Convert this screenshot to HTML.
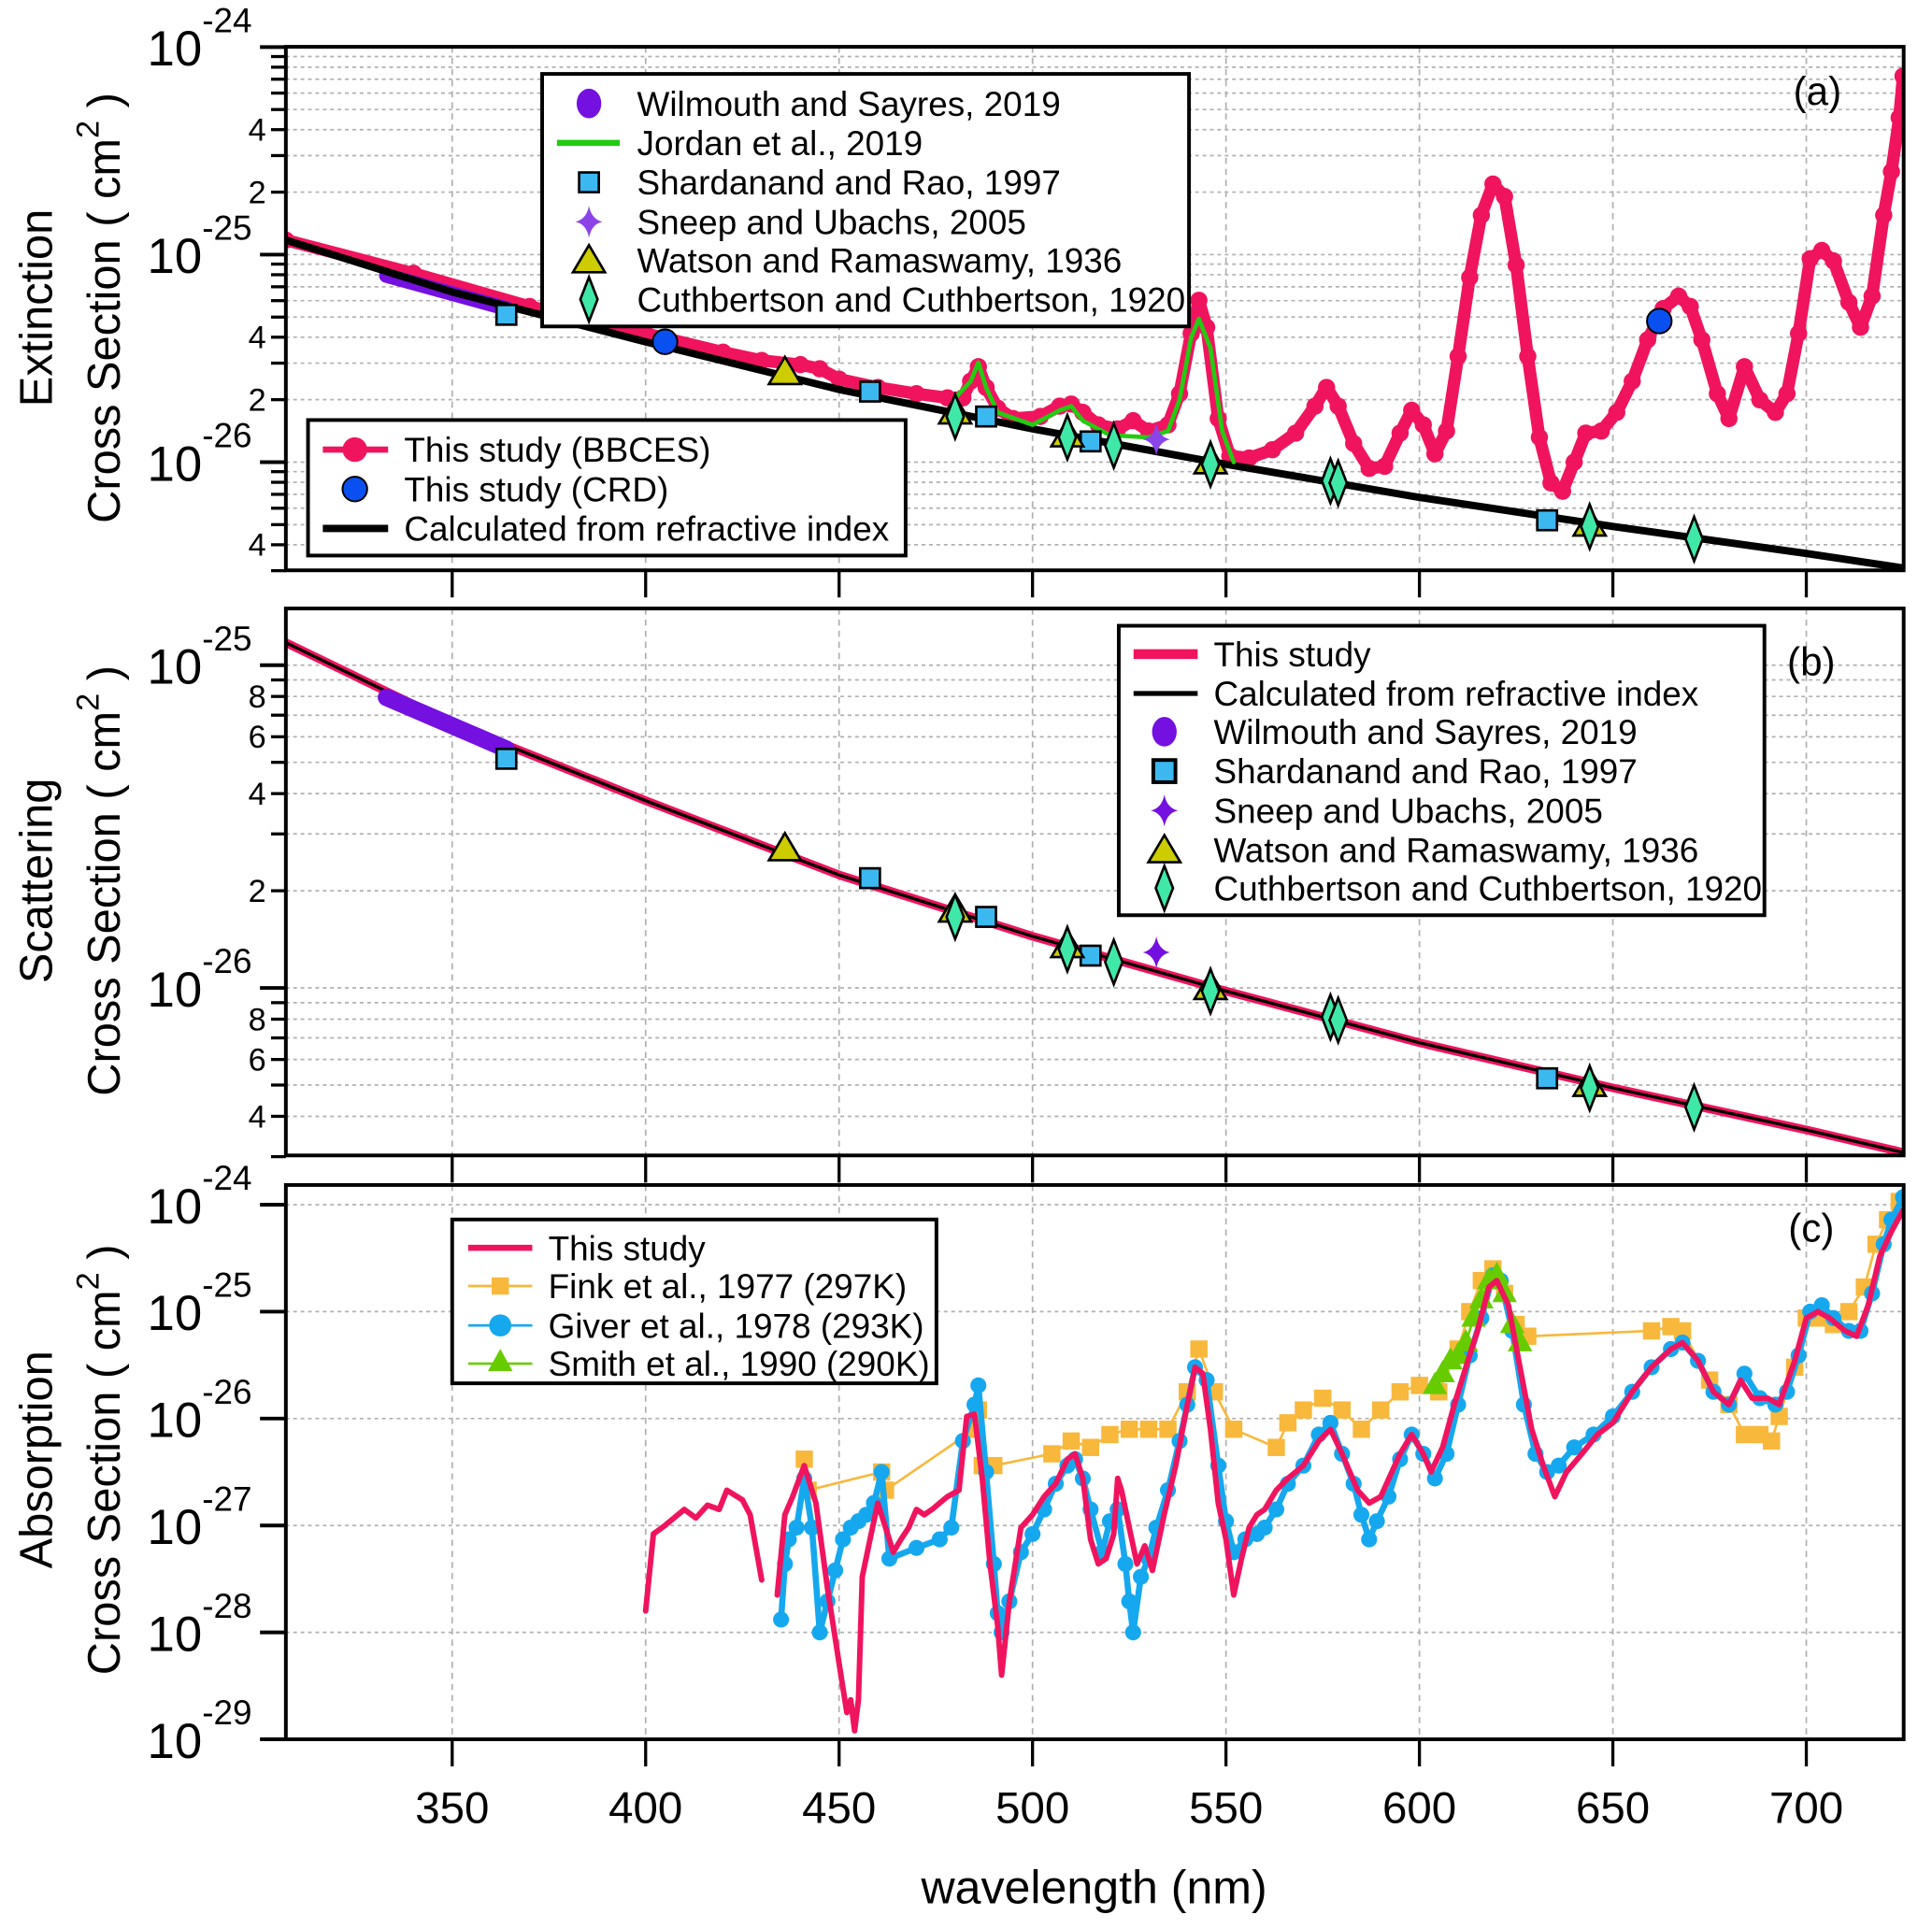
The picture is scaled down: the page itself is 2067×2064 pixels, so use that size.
<!DOCTYPE html>
<html><head><meta charset="utf-8"><style>
html,body{margin:0;padding:0;background:#fff;}
svg{display:block;font-family:"Liberation Sans Narrow","Liberation Sans",sans-serif;}
.axt{font-family:"Liberation Sans",sans-serif;}
</style></head><body>
<svg id="chart" width="2067" height="2064" viewBox="0 0 1568 1566" preserveAspectRatio="none" xmlns="http://www.w3.org/2000/svg">
<defs>
<clipPath id="clipA"><rect x="232" y="38" width="1313" height="425"/></clipPath>
<clipPath id="clipB"><rect x="232" y="494" width="1313" height="444"/></clipPath>
<clipPath id="clipC"><rect x="232" y="962" width="1313" height="450"/></clipPath>
</defs>
<g id="grid"></g>
<g id="series"></g>
<g id="axes"></g>
<g id="legends"></g>
</svg>
<script>
// ---------- data ----------
const xTicks = [350,400,450,500,550,600,650,700];
const calcLam = [307,350,400,450,500,550,600,650,700,725];
const calcLog = [-24.93,-25.18,-25.42,-25.65,-25.84,-26.01,-26.17,-26.31,-26.44,-26.51];
const wilLam = [333,364];
const wilLog = [-25.10,-25.26];
const shaLam = [364,458,488,515,633];
const shaLog = [-25.29,-25.66,-25.78,-25.90,-26.28];
const watLam = [436,480,509,546,644];
const watLog = [-25.57,-25.76,-25.87,-26.00,-26.30];
const cutLam = [480,509,521,546,577,579,644,671];
const cutLog = [-25.78,-25.88,-25.92,-26.01,-26.09,-26.10,-26.31,-26.37];
const snpLam = [532];
const snpLog = [-25.89];
const crdLam = [405,662];
const crdLog = [-25.42,-25.32];
const extLam = [307,340,370,400,420,430,440,445,450,460,470,478,482,484,486,488,491,495,502,507,510,513,517,522,526,530,535,538,541,543,545,548,551,556,562,568,573,576,579,583,587,591,595,598,601,604,607,610,613,616,619,622,625,628,631,634,637,640,643,647,651,655,659,663,667,670,673,677,680,684,688,692,695,698,701,704,707,711,714,717,720,722,724,725];
const extLog = [-24.93,-25.09,-25.25,-25.38,-25.47,-25.51,-25.53,-25.55,-25.60,-25.64,-25.67,-25.69,-25.69,-25.61,-25.54,-25.64,-25.74,-25.79,-25.78,-25.73,-25.72,-25.76,-25.82,-25.84,-25.80,-25.85,-25.82,-25.67,-25.38,-25.22,-25.35,-25.79,-25.97,-25.98,-25.94,-25.86,-25.73,-25.64,-25.73,-25.91,-26.03,-26.02,-25.86,-25.75,-25.82,-25.96,-25.85,-25.49,-25.11,-24.81,-24.66,-24.72,-25.05,-25.49,-25.88,-26.10,-26.14,-26.00,-25.86,-25.85,-25.76,-25.61,-25.41,-25.26,-25.20,-25.25,-25.41,-25.67,-25.79,-25.54,-25.70,-25.76,-25.67,-25.38,-25.02,-24.98,-25.03,-25.23,-25.35,-25.20,-24.81,-24.60,-24.34,-24.14];
const jorLam = [480,484,486,488,491,500,507,510,513,520,530,535,538,541,543,546,549,552];
const jorLog = [-25.69,-25.61,-25.52,-25.64,-25.76,-25.82,-25.75,-25.73,-25.80,-25.87,-25.88,-25.85,-25.70,-25.40,-25.31,-25.45,-25.85,-26.00];
const absLam1 = [400,402,405,410,413,416,419,421,425,427,430];
const absLog1 = [-27.80,-27.08,-27.00,-26.85,-26.93,-26.81,-26.85,-26.67,-26.76,-26.90,-27.51];
const absLam2 = [434,436,438,441,444,447,450,452,453,454,455,456,458,460,462,464,466,468,470,472,474,476,478,481,483,485,487,489,491,492,494,497,500,503,506,509,511,513,515,517,519,521,522,523,525,527,529,531,534,537,540,542,544,546,548,550,552,554,556,558,560,563,566,570,574,577,580,584,587,590,595,598,601,603,606,609,612,615,618,620,623,626,629,632,635,638,642,646,650,655,660,665,668,672,676,680,683,686,690,693,697,700,703,706,710,713,716,719,722,725];
const absLog2 = [-27.65,-26.90,-26.73,-26.44,-26.79,-27.59,-28.29,-28.75,-28.63,-28.92,-28.63,-27.48,-27.13,-26.79,-27.02,-27.25,-27.13,-27.02,-26.85,-26.90,-26.85,-26.79,-26.73,-26.67,-25.98,-25.96,-26.56,-27.36,-27.94,-28.40,-27.71,-27.02,-26.90,-26.73,-26.61,-26.38,-26.33,-26.56,-27.13,-27.36,-27.31,-27.08,-26.56,-26.67,-27.02,-27.36,-27.19,-27.42,-26.90,-26.44,-25.87,-25.52,-25.58,-26.10,-26.79,-27.13,-27.65,-27.31,-27.02,-26.90,-26.85,-26.67,-26.56,-26.44,-26.21,-26.10,-26.33,-26.67,-26.79,-26.73,-26.33,-26.15,-26.33,-26.50,-26.27,-25.87,-25.52,-25.18,-24.77,-24.71,-24.94,-25.52,-26.10,-26.44,-26.73,-26.50,-26.33,-26.15,-26.04,-25.75,-25.52,-25.35,-25.29,-25.46,-25.75,-25.87,-25.64,-25.81,-25.81,-25.87,-25.46,-25.06,-25.00,-25.06,-25.18,-25.23,-24.94,-24.48,-24.25,-24.05];
const givLam = [435,436,437,439,441,443,445,447,449,451,453,455,457,459,461,463,470,476,479,482,485,486,488,490,491,492,494,497,500,503,506,509,511,513,515,518,520,522,524,525,526,528,530,532,535,538,540,542,545,548,550,552,555,558,560,563,566,570,574,577,580,583,585,587,589,592,595,598,601,604,607,610,613,616,619,621,624,627,630,633,636,640,645,650,655,660,665,668,672,676,680,684,688,692,695,698,701,704,707,711,714,717,720,722,725];
const givLog = [-27.88,-27.36,-27.13,-27.02,-26.56,-27.02,-28.00,-27.71,-27.42,-27.13,-27.02,-26.96,-26.90,-26.79,-26.50,-27.31,-27.21,-27.13,-27.02,-26.21,-25.87,-25.69,-26.50,-27.36,-27.82,-28.00,-27.71,-27.25,-27.08,-26.85,-26.61,-26.44,-26.38,-26.56,-26.85,-27.25,-26.96,-26.85,-27.36,-27.71,-28.00,-27.48,-27.31,-27.02,-26.67,-26.21,-25.87,-25.52,-25.64,-26.44,-26.96,-27.25,-27.13,-27.08,-27.02,-26.85,-26.61,-26.44,-26.15,-26.04,-26.33,-26.61,-26.90,-27.13,-26.96,-26.73,-26.38,-26.15,-26.33,-26.56,-26.33,-25.87,-25.41,-25.06,-24.66,-24.71,-25.18,-25.87,-26.33,-26.50,-26.44,-26.27,-26.15,-25.98,-25.75,-25.52,-25.35,-25.29,-25.46,-25.75,-25.87,-25.58,-25.81,-25.87,-25.75,-25.41,-25.00,-24.94,-25.06,-25.18,-25.18,-24.83,-24.37,-24.14,-23.93];
const finLam = [441,442,461,462,485,486,487,490,505,510,515,520,525,530,535,540,543,547,552,563,566,570,575,580,585,590,595,600,605,610,613,616,619,622,625,628,660,665,668,675,680,684,688,691,693,697,700,703,707,711,715,718,721,724];
const finLog = [-26.38,-26.67,-26.50,-26.67,-26.10,-25.92,-26.44,-26.44,-26.33,-26.21,-26.27,-26.15,-26.10,-26.10,-26.10,-25.75,-25.35,-25.75,-26.10,-26.27,-26.04,-25.92,-25.81,-25.92,-26.10,-25.92,-25.75,-25.69,-25.75,-25.35,-25.00,-24.71,-24.60,-24.83,-25.12,-25.23,-25.18,-25.14,-25.18,-25.64,-25.87,-26.15,-26.15,-26.21,-25.98,-25.52,-25.06,-25.06,-25.12,-25.00,-24.77,-24.37,-24.14,-23.97];
const smiLam = [604,606,608,610,612,614,616,618,620,622,624,626];
const smiLog = [-25.69,-25.58,-25.46,-25.41,-25.29,-25.06,-24.89,-24.71,-24.66,-24.83,-25.12,-25.29];

// ---------- scales ----------
const NS='http://www.w3.org/2000/svg';
const X = l => 367 + (l-350)*3.14;
const YA = L => 38.2 + (-24-L)*168.5;
const YB = L => 540 + (-25-L)*262;
const YC = L => 978 + (-24-L)*86.8;
const PINK='#f0145f', SQB='#3cb8f0', PUR='#7410e0', YEL='#cccc00', TEAL='#40e8a8';

function mk(tag, attrs, parent){const e=document.createElementNS(NS,tag);for(const k in attrs)e.setAttribute(k,attrs[k]);parent.appendChild(e);return e;}
const grid=document.getElementById('grid'), series=document.getElementById('series'), axes=document.getElementById('axes'), legends=document.getElementById('legends');

function polyline(lams, logs, ys, parent, style){
  const pts=lams.map((l,i)=>X(l).toFixed(1)+','+ys(logs[i]).toFixed(1)).join(' ');
  return mk('polyline',Object.assign({points:pts,fill:'none','stroke-linejoin':'round','stroke-linecap':'round'},style),parent);
}
function marker(type,cx,cy,parent,s){
  let e;
  if(type==='sq'){e=mk('rect',{x:cx-8,y:cy-8,width:16,height:16,fill:SQB,stroke:'#000','stroke-width':2},parent);}
  else if(type==='tri'){e=mk('polygon',{points:`${cx},${cy-13} ${cx-13},${cy+9} ${cx+13},${cy+9}`,fill:YEL,stroke:'#000','stroke-width':2},parent);}
  else if(type==='dia'){e=mk('polygon',{points:`${cx},${cy-18} ${cx-7},${cy} ${cx},${cy+18} ${cx+7},${cy}`,fill:TEAL,stroke:'#000','stroke-width':2},parent);}
  else if(type==='star'){e=mk('path',{d:`M${cx},${cy-13} Q${cx+2},${cy-2} ${cx+11},${cy} Q${cx+2},${cy+2} ${cx},${cy+13} Q${cx-2},${cy+2} ${cx-11},${cy} Q${cx-2},${cy-2} ${cx},${cy-13}Z`,fill:s||PUR},parent);}
  else if(type==='crd'){e=mk('circle',{cx:cx,cy:cy,r:10,fill:'#0a50f0',stroke:'#000','stroke-width':1.5},parent);}
  else if(type==='pc'){e=mk('circle',{cx:cx,cy:cy,r:7,fill:PINK},parent);}
  else if(type==='bc'){e=mk('circle',{cx:cx,cy:cy,r:6.5,fill:'#16a8ee'},parent);}
  else if(type==='ys'){e=mk('rect',{x:cx-7,y:cy-7,width:14,height:14,fill:'#f8b83c'},parent);}
  else if(type==='gt'){e=mk('polygon',{points:`${cx},${cy-11} ${cx-10},${cy+7} ${cx+10},${cy+7}`,fill:'#66cc00'},parent);}
  return e;
}
function txt(s,x,y,size,parent,anchor,extra){const t=mk('text',Object.assign({x:x,y:y,'font-size':size,'text-anchor':anchor||'start',fill:'#000'},extra||{}),parent);t.textContent=s;return t;}

// ---------- grids ----------
function hgrid(ys, decades, minors, parent){
  for(const d of decades){for(const m of minors){const L=d+Math.log10(m);const y=ys(L);
    if(y<ys.top-0.5||y>ys.bot+0.5)continue;
    const g=mk('line',{x1:232,x2:1545,y1:y,y2:y,stroke:'#b0b0b0','stroke-width':1.3,'stroke-dasharray':'3,3'},parent);
    
    
  }}
}
YA.top=38;YA.bot=463;YB.top=494;YB.bot=938;YC.top=962;YC.bot=1412;
hgrid(YA,[-25,-26,-27],[1,2,3,4,5,6,7,8,9],grid);
hgrid(YB,[-25,-26,-27],[1,2,3,4,5,6,7,8,9],grid);
hgrid(YC,[-24,-25,-26,-27,-28,-29],[1],grid);
for(const [t,b] of [[38,463],[494,938],[962,1412]]){
  for(const l of xTicks){const g=mk('line',{x1:X(l),x2:X(l),y1:t,y2:b,stroke:'#b0b0b0','stroke-width':1.3,'stroke-dasharray':'5,4'},grid);
    
    }
}

// ---------- panel A ----------
const gA=mk('g',{'clip-path':'url(#clipA)'},series);


let e;
e=polyline(extLam,extLog,YA,gA,{stroke:PINK,'stroke-width':10});


extLam.forEach((l,i)=>{const m=marker('pc',X(l),YA(extLog[i]),gA);
  
  });
e=polyline(wilLam,wilLog,YA,gA,{stroke:PUR,'stroke-width':12});


e=polyline(calcLam,calcLog,YA,gA,{stroke:'#000','stroke-width':6});


e=polyline(jorLam,jorLog,YA,gA,{stroke:'#22cc11','stroke-width':3.5});


function litMarkers(ys,parent,suffix){
  shaLam.forEach((l,i)=>{const m=marker('sq',X(l),ys(shaLog[i]),parent);
    
    });
  snpLam.forEach((l,i)=>{const m=marker('star',X(l),ys(snpLog[i]),parent, suffix==='a'?'#8a44e8':PUR);
    
    });
  watLam.forEach((l,i)=>{const m=marker('tri',X(l),ys(watLog[i]),parent);
    
    });
  cutLam.forEach((l,i)=>{const m=marker('dia',X(l),ys(cutLog[i]),parent);
    
    });
}
litMarkers(YA,gA,'a');
crdLam.forEach((l,i)=>{const m=marker('crd',X(l),YA(crdLog[i]),gA);
  
  });

// ---------- panel B ----------
const gB=mk('g',{'clip-path':'url(#clipB)'},series);


e=polyline(calcLam,calcLog,YB,gB,{stroke:PINK,'stroke-width':7});


e=polyline(calcLam,calcLog,YB,gB,{stroke:'#000','stroke-width':2.5});


e=polyline(wilLam,wilLog,YB,gB,{stroke:PUR,'stroke-width':14});


litMarkers(YB,gB,'b');

// ---------- panel C ----------
const gC=mk('g',{'clip-path':'url(#clipC)'},series);


e=polyline(finLam,finLog,YC,gC,{stroke:'#f8b83c','stroke-width':2});


finLam.forEach((l,i)=>{const m=marker('ys',X(l),YC(finLog[i]),gC);
  
  });
e=polyline(givLam,givLog,YC,gC,{stroke:'#16a8ee','stroke-width':5});


givLam.forEach((l,i)=>{const m=marker('bc',X(l),YC(givLog[i]),gC);
  
  });
e=polyline(smiLam,smiLog,YC,gC,{stroke:'#66cc00','stroke-width':2});


smiLam.forEach((l,i)=>{const m=marker('gt',X(l),YC(smiLog[i]),gC);
  
  });
e=polyline(absLam1,absLog1,YC,gC,{stroke:PINK,'stroke-width':4.5});


e=polyline(absLam2,absLog2,YC,gC,{stroke:PINK,'stroke-width':4.5});



// ---------- axes ----------
function frame(t,b,name){
  const r=mk('rect',{x:232,y:t,width:1313,height:b-t,fill:'none',stroke:'#000','stroke-width':3},axes);
  
  
  for(const l of xTicks){mk('line',{x1:X(l),x2:X(l),y1:b,y2:b+22,stroke:'#000','stroke-width':2.5},axes);}
}
frame(38,463,'panel-a-frame');frame(494,938,'panel-b-frame');frame(962,1412,'panel-c-frame');
function yAxis(ys,decades,minorsAll,labelMinors,expSize){
  for(const d of decades){
    for(const m of minorsAll){const y=ys(d+Math.log10(m));if(y<ys.top-1||y>ys.bot+1)continue;
      const major=(m===1);
      mk('line',{x1:major?211:220,x2:232,y1:y,y2:y,stroke:'#000','stroke-width':major?3:2.5},axes);
      if(major){
        const t=txt('10',164,y+15,40,axes,'end');
        
        
        const t2=txt(String(d),164,y-12,expSize,axes,'start');
        
        
      } else if(labelMinors.includes(m)){
        const t=txt(String(m),216,y+9,26,axes,'end');
        
        
      }
    }
  }
}
yAxis(YA,[-24,-25,-26,-27],[1,2,3,4,5,6,7,8,9],[2,4],28);
yAxis(YB,[-25,-26,-27],[1,2,3,4,5,6,7,8,9],[2,4,6,8],28);
yAxis(YC,[-24,-25,-26,-27,-28,-29],[1],[],28);
for(const l of xTicks){const t=txt(String(l),X(l),1480,36,axes,'middle');
  
  }
e=txt('wavelength (nm)',888,1545,38,axes,'middle');


function ytitle(a,b,cy,name){
  const g=mk('g',{},axes);
  
  
  const t1=mk('text',{x:0,y:0,'font-size':37,'text-anchor':'middle',class:'axt',transform:`translate(42,${cy}) rotate(-90)`},g);t1.textContent=a;
  const t2=mk('text',{x:0,y:0,'font-size':37,'text-anchor':'middle',class:'axt',transform:`translate(97,${cy}) rotate(-90)`},g);
  t2.textContent=b;
  const sup=mk('tspan',{dy:-17,'font-size':26},t2);sup.textContent='2';
  const rest=mk('tspan',{dy:17},t2);rest.textContent=' )';
}
ytitle('Extinction','Cross Section ( cm',250,'y-axis-title-a');
ytitle('Scattering','Cross Section ( cm',715,'y-axis-title-b');
ytitle('Absorption','Cross Section ( cm',1185,'y-axis-title-c');
for(const [s,x,y] of [['(a)',1475,85],['(b)',1470,548],['(c)',1470,1008]]){
  const t=txt(s,x,y,32,axes,'middle');
  
  
}

// ---------- legends ----------
function legendBox(x,y,w,h,name){const r=mk('rect',{x:x,y:y,width:w,height:h,fill:'#fff',stroke:'#000','stroke-width':3},legends);
  
  }
function lineSym(x1,x2,y,c,w){mk('line',{x1:x1,x2:x2,y1:y,y2:y,stroke:c,'stroke-width':w},legends);}
function entry(label,x,y,name){const t=txt(label,x,y+10,28,legends,'start');
  
  }
legendBox(440,60,525,205,'legend-a-literature');
mk('ellipse',{cx:478,cy:84,rx:10,ry:12,fill:PUR},legends);entry('Wilmouth and Sayres, 2019',517,84,'legend-entry-wilmouth');
lineSym(452,503,116,'#22cc11',5);entry('Jordan et al., 2019',517,116,'legend-entry-jordan');
marker('sq',478,148,legends);entry('Shardanand and Rao, 1997',517,148,'legend-entry-shardanand');
marker('star',478,180,legends,'#8a44e8');entry('Sneep and Ubachs, 2005',517,180,'legend-entry-sneep');
marker('tri',478,212,legends);entry('Watson and Ramaswamy, 1936',517,211,'legend-entry-watson');
marker('dia',478,243,legends);entry('Cuthbertson and Cuthbertson, 1920',517,243,'legend-entry-cuthbertson');
legendBox(250,341,485,110,'legend-a-this-study');
lineSym(262,315,365,PINK,5);mk('circle',{cx:288,cy:365,r:10,fill:PINK},legends);entry('This study (BBCES)',328,365,'legend-entry-bbces');
marker('crd',288,397,legends);entry('This study (CRD)',328,397,'legend-entry-crd');
lineSym(262,315,429,'#000',6);entry('Calculated from refractive index',328,429,'legend-entry-calculated');
legendBox(908,508,524,235,'legend-b');
lineSym(920,972,531,PINK,8);entry('This study',985,531,'legend-entry-this-study-b');
lineSym(920,972,563,'#000',4);entry('Calculated from refractive index',985,563,'legend-entry-calculated-b');
mk('ellipse',{cx:945,cy:594,rx:10,ry:12,fill:PUR},legends);entry('Wilmouth and Sayres, 2019',985,594,'legend-entry-wilmouth-b');
mk('rect',{x:936,y:617,width:18,height:18,fill:SQB,stroke:'#000','stroke-width':3},legends);entry('Shardanand and Rao, 1997',985,626,'legend-entry-shardanand-b');
marker('star',945,658,legends,PUR);entry('Sneep and Ubachs, 2005',985,658,'legend-entry-sneep-b');
marker('tri',945,691,legends);entry('Watson and Ramaswamy, 1936',985,690,'legend-entry-watson-b');
marker('dia',945,721,legends);entry('Cuthbertson and Cuthbertson, 1920',985,721,'legend-entry-cuthbertson-b');
legendBox(367,990,393,133,'legend-c');
lineSym(380,432,1013,PINK,5);entry('This study',445,1013,'legend-entry-this-study-c');
lineSym(380,432,1044,'#f8b83c',2);marker('ys',406,1044,legends);entry('Fink et al., 1977 (297K)',445,1044,'legend-entry-fink');
lineSym(380,432,1076,'#16a8ee',2);mk('circle',{cx:406,cy:1076,r:9,fill:'#16a8ee'},legends);entry('Giver et al., 1978 (293K)',445,1076,'legend-entry-giver');
lineSym(380,432,1107,'#66cc00',2);marker('gt',406,1106,legends);entry('Smith et al., 1990 (290K)',445,1107,'legend-entry-smith');
</script>
</body></html>
